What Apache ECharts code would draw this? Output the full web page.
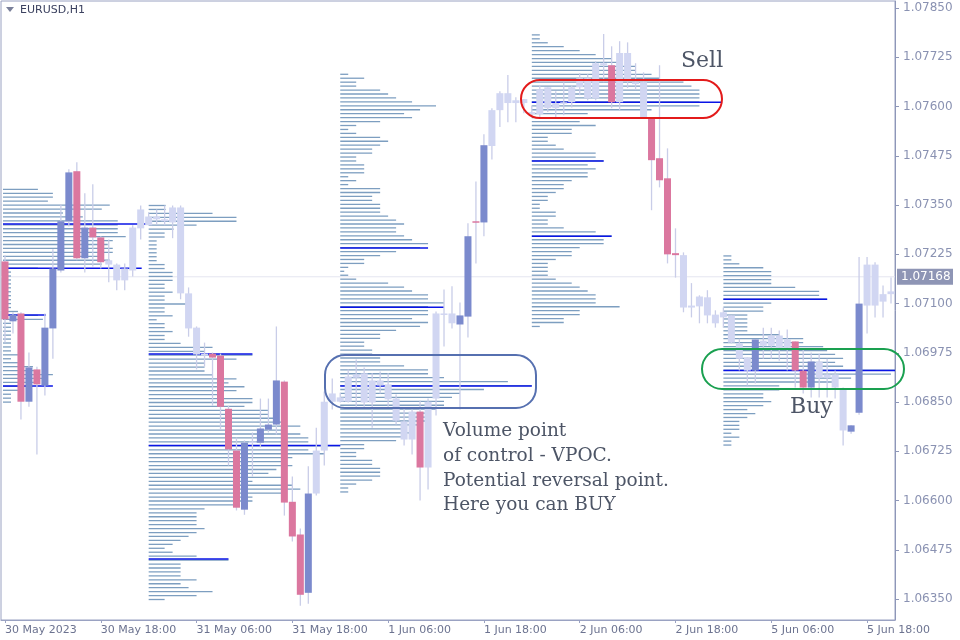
<!DOCTYPE html>
<html>
<head>
<meta charset="utf-8">
<script src="https://cdn.jsdelivr.net/npm/echarts@6/dist/echarts.min.js"></script>
<style>
  html, body { margin: 0; padding: 0; background: #fff; }
  #chart { width: 960px; height: 640px; }
</style>
</head>
<body>
<div id="chart"></div>
<script>
// EURUSD H1 candles, one per hour from 30 May 06:00
const opens  = [1.07207,1.07055,1.07075,1.06851,1.06933,1.06892,1.07037,1.07184,1.07309,1.07436,1.07215,1.07293,1.07268,1.07210,1.07199,1.07159,1.07184,1.07291,1.07321,1.07321,1.07314,1.07306,1.07344,1.07126,1.07039,1.06973,1.06973,1.06968,1.06833,1.06727,1.06577,1.06747,1.06747,1.06780,1.06793,1.06902,1.06597,1.06514,1.06366,1.06618,1.06727,1.06851,1.06862,1.06851,1.06920,1.06923,1.06849,1.06905,1.06895,1.06859,1.06801,1.06755,1.06826,1.06684,1.06859,1.07075,1.07050,1.07047,1.07067,1.07309,1.07306,1.07500,1.07591,1.07634,1.07616,1.07609,1.07586,1.07581,1.07649,1.07596,1.07609,1.07611,1.07649,1.07621,1.07621,1.07710,1.07705,1.07611,1.07736,1.07662,1.07662,1.07571,1.07469,1.07418,1.07228,1.07223,1.07095,1.07093,1.07116,1.07072,1.07065,1.07070,1.06999,1.06963,1.06930,1.07006,1.06993,1.07019,1.06988,1.07004,1.06930,1.06887,1.06953,1.06920,1.06920,1.06882,1.06775,1.06823,1.07095,1.07199,1.07105,1.07124];
const closes = [1.07060,1.07072,1.06851,1.06938,1.06895,1.07039,1.07189,1.07309,1.07433,1.07215,1.07293,1.07268,1.07205,1.07199,1.07159,1.07189,1.07293,1.07339,1.07299,1.07314,1.07309,1.07344,1.07126,1.07037,1.06971,1.06968,1.06963,1.06838,1.06730,1.06582,1.06747,1.06750,1.06783,1.06793,1.06905,1.06595,1.06509,1.06361,1.06618,1.06727,1.06851,1.06872,1.06851,1.06915,1.06912,1.06849,1.06905,1.06892,1.06857,1.06803,1.06755,1.06826,1.06684,1.06851,1.07075,1.07072,1.07075,1.07070,1.07271,1.07306,1.07502,1.07591,1.07634,1.07609,1.07609,1.07619,1.07581,1.07644,1.07596,1.07609,1.07611,1.07649,1.07672,1.07672,1.07710,1.07705,1.07611,1.07736,1.07667,1.07657,1.07571,1.07464,1.07413,1.07225,1.07223,1.07090,1.07090,1.07118,1.07070,1.07050,1.07078,1.07001,1.06960,1.06930,1.07009,1.06993,1.07019,1.06988,1.07009,1.06930,1.06887,1.06953,1.06912,1.06912,1.06887,1.06778,1.06791,1.07100,1.07199,1.07095,1.07124,1.07131];
const lows   = [1.07001,1.07024,1.06806,1.06838,1.06717,1.06867,1.06960,1.07179,1.07296,1.07210,1.07179,1.07194,1.07189,1.07154,1.07134,1.07134,1.07169,1.07263,1.07299,1.07301,1.07299,1.07266,1.07111,1.07016,1.06933,1.06940,1.06841,1.06780,1.06689,1.06575,1.06564,1.06661,1.06735,1.06773,1.06768,1.06562,1.06496,1.06333,1.06338,1.06613,1.06689,1.06831,1.06849,1.06849,1.06838,1.06838,1.06785,1.06872,1.06838,1.06793,1.06740,1.06717,1.06600,1.06628,1.06816,1.06991,1.07037,1.06831,1.07014,1.07202,1.07271,1.07466,1.07548,1.07560,1.07560,1.07583,1.07573,1.07573,1.07586,1.07573,1.07578,1.07598,1.07629,1.07616,1.07616,1.07662,1.07596,1.07591,1.07647,1.07642,1.07571,1.07337,1.07395,1.07202,1.07166,1.07078,1.07065,1.07050,1.07050,1.07039,1.07039,1.06999,1.06930,1.06892,1.06897,1.06960,1.06960,1.06955,1.06930,1.06887,1.06872,1.06862,1.06862,1.06862,1.06859,1.06740,1.06770,1.06818,1.07024,1.07065,1.07065,1.07100];
const highs  = [1.07223,1.07078,1.07078,1.06976,1.06940,1.07075,1.07238,1.07352,1.07441,1.07459,1.07380,1.07403,1.07271,1.07263,1.07202,1.07202,1.07299,1.07349,1.07332,1.07339,1.07349,1.07349,1.07349,1.07141,1.07042,1.07001,1.06976,1.06973,1.06841,1.06760,1.06753,1.06773,1.06859,1.06859,1.07042,1.06905,1.06661,1.06529,1.06687,1.06785,1.06877,1.06910,1.06874,1.06933,1.06958,1.06938,1.06923,1.06928,1.06923,1.06869,1.06833,1.06831,1.06854,1.06859,1.07080,1.07136,1.07144,1.07103,1.07304,1.07410,1.07530,1.07596,1.07639,1.07680,1.07624,1.07619,1.07603,1.07654,1.07649,1.07639,1.07662,1.07654,1.07685,1.07682,1.07715,1.07784,1.07753,1.07766,1.07763,1.07710,1.07687,1.07573,1.07705,1.07494,1.07291,1.07230,1.07152,1.07121,1.07134,1.07083,1.07090,1.07070,1.07011,1.06963,1.07009,1.07039,1.07039,1.07032,1.07034,1.07004,1.06986,1.06976,1.06973,1.06960,1.06930,1.06887,1.06791,1.07218,1.07218,1.07205,1.07146,1.07166];
// candle colour class per bar, ten bars per chunk: b = blue, p = pink, l = light
const kinds = ['pbpbpbbbbp','bpplllllll','llllllpppp','blbbbpppbl','llllllllll',
               'llpllllbbp','blllllllll','llllllplll','lpppplllll','llllbllllp','pbllllbbll','ll'].join('').split('');

const xTickLabels = ['30 May 2023','30 May 18:00','31 May 06:00','31 May 18:00','1 Jun 06:00','1 Jun 18:00','2 Jun 06:00','2 Jun 18:00','5 Jun 06:00','5 Jun 18:00'];
const yTickLabels = [1.06350,1.06475,1.06600,1.06725,1.06850,1.06975,1.07100,1.07225,1.07350,1.07475,1.07600,1.07725,1.07850];
const lastPrice = 1.07168;

// volume profiles per session, top level first, 0.0001 per level
const sessionStarts = [0, 18, 42, 66, 90];
const sessionOffsets = [-0.25, 0, 0, 0, 0];
const sessionTops = [1.07390, 1.07349, 1.07682, 1.07782, 1.07221];
const prof0 = [35,50,50,45,107,99,60,80,115,115,115,115,123,110,105,110,110,100,107,99,35,8,8,8,8,8,8,8,8,8,8,15,35,40,8,8,8,8,8,8,8,8,15,8,15,30,35,50,43,35,30,15,8,8,8];
const prof1 = [17,17,64,88,88,48,25,16,16,8,8,8,8,8,8,16,16,24,24,24,16,16,24,16,16,40,16,16,24,8,16,16,24,16,16,32,64,56,104,88,56,56,56,64,88,80,96,88,72,104,104,96,120,120,128,136,152,136,152,160,160,192,160,176,144,136,144,128,120,136,104,144,152,136,104,104,88,56,48,48,48,48,56,48,40,32,24,16,24,48,80,32,32,32,32,48,32,40,64,48,16];
const prof2 = [8,24,16,16,40,48,56,72,96,80,64,72,40,16,8,16,40,48,40,32,32,16,16,24,24,24,8,16,8,40,40,32,32,40,40,40,48,56,64,56,56,64,72,88,80,56,40,24,24,8,4,8,16,48,64,72,88,88,104,88,88,88,72,88,80,56,40,40,24,24,32,32,40,40,64,88,88,104,168,192,144,120,112,104,104,96,88,88,88,80,64,72,64,56,24,24,16,16,32,32,40,40,40,32,16,8,8];
const prof3 = [8,8,16,32,48,64,80,88,104,104,120,128,152,160,168,168,168,168,168,120,56,32,48,64,40,40,16,16,24,32,64,64,72,56,64,56,56,40,32,32,24,16,16,8,8,24,24,16,16,32,64,80,72,72,48,40,40,24,16,16,16,16,24,40,48,56,64,64,64,88,48,48,32,32,8];
const prof4 = [8,8,16,40,48,48,48,48,72,96,96,104,48,40,40,24,24,24,24,24,56,80,80,100,104,112,120,112,120,172,168,128,112,56,56,40,40,48,40,24,32,24,16,16,16,8,16,8,8];
const profiles = [prof0, prof1, prof2, prof3, prof4];
// point-of-control lines: [session, price, volume]
const pocLines = [
  [0, 1.07302, 147], [0, 1.07190, 139], [0, 1.07071, 43], [0, 1.06891, 50],
  [1, 1.06972, 104], [1, 1.06740, 192], [1, 1.06452, 80],
  [2, 1.07241, 88], [2, 1.07091, 104], [2, 1.06891, 192],
  [3, 1.07611, 190], [3, 1.07462, 72], [3, 1.07271, 80],
  [4, 1.07111, 104], [4, 1.06930, 172]
];

const kindColor = { b: '#7b8acd', p: '#db779f', l: '#d1d6f2' };
const wickColor = '#c9cde8';

const candleData = opens.map((o, i) => [i, o, closes[i], lows[i], highs[i]]);
const profData = [];
profiles.forEach((vols, s) => {
  vols.forEach((v, k) => profData.push([sessionStarts[s], sessionTops[s] - k * 0.0001, v, sessionOffsets[s], 0]));
});
pocLines.forEach(l => profData.push([sessionStarts[l[0]], l[1], l[2], sessionOffsets[l[0]], 1]));

const chart = echarts.init(document.getElementById('chart'));
const axisFont = { fontFamily: 'DejaVu Sans', fontSize: 11 };

chart.setOption({
  animation: false,
  grid: { left: 1, right: 65, top: 1, bottom: 20, show: true, borderColor: '#9aa2c2', borderWidth: 1 },
  xAxis: {
    type: 'category',
    data: opens.map((_, i) => String(i)),
    boundaryGap: true,
    axisLine: { lineStyle: { color: '#9aa2c2' } },
    axisTick: { show: true, alignWithLabel: true, interval: i => i % 12 === 0, length: 3, lineStyle: { color: '#9aa2c2' } },
    axisLabel: {
      interval: i => i % 12 === 0,
      formatter: (v, i) => xTickLabels[i / 12] || '',
      align: 'left', margin: 5, color: '#6c7390', ...axisFont
    },
    splitLine: { show: false }
  },
  yAxis: {
    type: 'value', position: 'right', min: 1.06297, max: 1.07868, scale: true,
    axisLine: { show: true, lineStyle: { color: '#8e97b8' } },
    axisTick: { show: true, customValues: yTickLabels, length: 4, lineStyle: { color: '#8e97b8' } },
    axisLabel: { customValues: yTickLabels, formatter: v => v.toFixed(5), color: '#8a92b2', margin: 8, ...axisFont, fontSize: 12 },
    splitLine: { show: false }
  },
  graphic: [
    { type: 'polygon', left: 6, top: 7, shape: { points: [[0, 0], [8, 0], [4, 5]] }, style: { fill: '#7a809a' } },
    { type: 'text', left: 20, top: 5, style: { text: 'EURUSD,H1', fill: '#3c4260', font: '11px "DejaVu Sans"' } },
    { type: 'rect', shape: { x: 521, y: 80, width: 201, height: 38, r: 19 }, style: { fill: 'none', stroke: '#e31b1b', lineWidth: 2 }, z: 20 },
    { type: 'text', left: 681, top: 50, style: { text: 'Sell', fill: '#4d5566', font: '22px "DejaVu Serif"' }, z: 20 },
    { type: 'rect', shape: { x: 325, y: 355, width: 211, height: 53, r: 20 }, style: { fill: 'none', stroke: '#5670b0', lineWidth: 2 }, z: 20 },
    { type: 'rect', shape: { x: 702, y: 349, width: 202, height: 40, r: 20 }, style: { fill: 'none', stroke: '#1aa050', lineWidth: 2 }, z: 20 },
    { type: 'text', left: 790, top: 396, style: { text: 'Buy', fill: '#4d5566', font: '22px "DejaVu Serif"' }, z: 20 },
    { type: 'text', left: 443, top: 419, style: { text: 'Volume point\nof control - VPOC.\nPotential reversal point.\nHere you can BUY', fill: '#4d5566', font: '18.5px "DejaVu Serif"', lineHeight: 24.7 }, z: 20 }
  ],
  series: [
    {
      // last price line with its label on the price scale
      type: 'custom', z: 1, clip: false,
      encode: { x: 0, y: 1 },
      data: [[0, lastPrice]],
      renderItem: (params, api) => {
        const p = api.coord([0, api.value(1)]);
        const left = params.coordSys.x, right = params.coordSys.x + params.coordSys.width;
        return {
          type: 'group',
          children: [
            { type: 'line', shape: { x1: left, y1: p[1], x2: right, y2: p[1] }, style: { stroke: '#e4e5f0', lineWidth: 1 } },
            { type: 'rect', shape: { x: right + 2, y: p[1] - 8, width: 56, height: 16 }, style: { fill: '#8e95b5' } },
            { type: 'text', x: right + 6, y: p[1], style: { text: lastPrice.toFixed(5), fill: '#fff', font: '12px "DejaVu Sans"', verticalAlign: 'middle' } }
          ]
        };
      }
    },
    {
      type: 'custom', z: 2, clip: true,
      encode: { x: 0, y: 1 },
      data: profData,
      renderItem: (params, api) => {
        const band = api.size([1, 0])[0];
        const p = api.coord([api.value(0), api.value(1)]);
        const x0 = p[0] + api.value(3) * band;
        const len = api.value(2) / 8 * band;
        const poc = api.value(4) === 1;
        return {
          type: 'line',
          shape: { x1: x0, y1: p[1], x2: x0 + len, y2: p[1] },
          style: { stroke: poc ? '#0a14e6' : '#7d9ec0', lineWidth: poc ? 1.5 : 1.3 },
          z2: poc ? 2 : 1
        };
      }
    },
    {
      type: 'custom', z: 3,
      encode: { x: 0, y: [1, 2, 3, 4] },
      data: candleData,
      renderItem: (params, api) => {
        const i = api.value(0);
        const o = api.value(1), c = api.value(2);
        const band = api.size([1, 0])[0];
        const w = band * 0.88;
        const top = api.coord([i, Math.max(o, c)]);
        const bot = api.coord([i, Math.min(o, c)]);
        const hi = api.coord([i, api.value(4)]);
        const lo = api.coord([i, api.value(3)]);
        const h = Math.max(bot[1] - top[1], 1.5);
        return {
          type: 'group',
          children: [
            { type: 'line', shape: { x1: hi[0], y1: hi[1], x2: lo[0], y2: lo[1] }, style: { stroke: wickColor, lineWidth: 1.3 } },
            { type: 'rect', shape: { x: top[0] - w / 2, y: top[1], width: w, height: h }, style: { fill: kindColor[kinds[i]] } }
          ]
        };
      }
    }
  ]
});
</script>
</body>
</html>
